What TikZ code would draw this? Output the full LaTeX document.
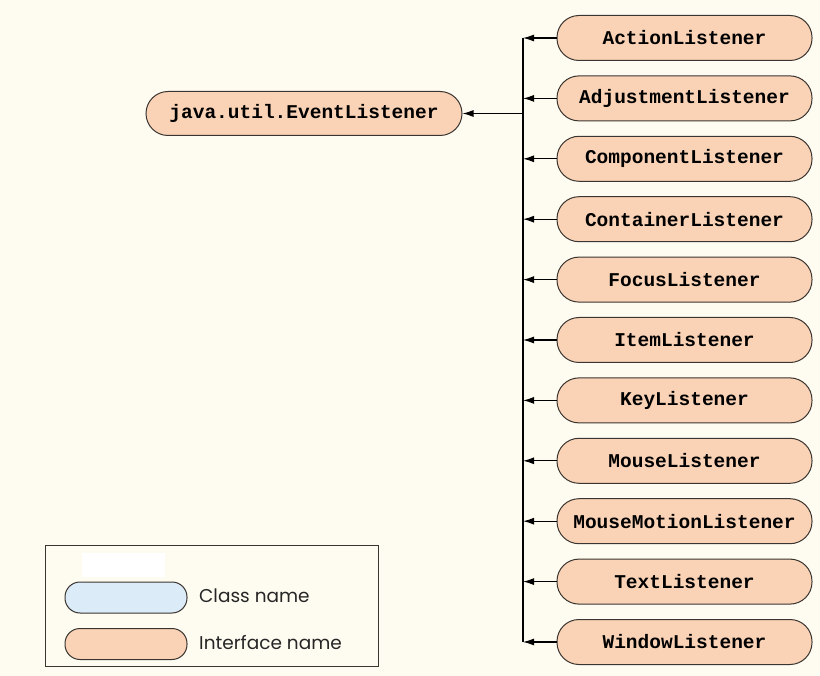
\documentclass[tikz,border=0pt]{standalone}
\usepackage{fontspec}
\newfontfamily\monob{Liberation Mono}[BoldFont={Liberation Mono Bold}]
\newfontfamily\legfont{Poppins}
\usetikzlibrary{arrows.meta}
\definecolor{bgc}{HTML}{FEFBF0}
\definecolor{ifill}{HTML}{FAD3B6}
\definecolor{cfill}{HTML}{DCEBF8}
\definecolor{edgec}{HTML}{3A3530}
\tikzset{
  pill/.style={draw=edgec, line width=1pt, fill=ifill, rectangle, rounded corners=22pt,
    minimum width=255pt, minimum height=45pt, inner sep=0pt,
    font=\monob\bfseries\fontsize{19.5}{22}\selectfont},
  conn/.style={line width=1.2pt, black},
  arr/.style={conn, -{Latex[length=11pt,width=7pt]}},
  legpill/.style={draw=edgec, line width=1pt, rectangle, rounded corners=15pt,
    minimum width=122pt, minimum height=31pt, inner sep=0pt},
  legtext/.style={anchor=west, inner sep=0pt, font=\legfont\fontsize{18.5}{21}\selectfont, text=black!85}
}
\begin{document}
\begin{tikzpicture}[x=1pt,y=-1pt]
\fill[bgc] (0,0) rectangle (820,676);
\useasboundingbox (0,0) rectangle (820,676);
% root
\node[pill, minimum width=316pt, minimum height=44pt] (root) at (304,113.5) {java.util.EventListener};
% listeners
\foreach \n/\t [count=\i from 0] in {
  a/ActionListener, b/AdjustmentListener, c/ComponentListener, d/ContainerListener,
  e/FocusListener, f/ItemListener, g/KeyListener, h/MouseListener,
  i/MouseMotionListener, j/TextListener, k/WindowListener}{
  \node[pill] (\n) at (684.5,{38+60.4*\i}) {\t};
  \coordinate (bus\n) at (523,{38+60.4*\i});
  \draw[arr] (\n.west) -- (bus\n);
}
\coordinate (busroot) at (523,113.5);
\draw[conn] (busa) -- (busk);
\draw[arr] (busroot) -- (root.east);
% legend
\node[draw=edgec, line width=1pt, rectangle, minimum width=333pt, minimum height=121pt, inner sep=0pt, anchor=north west] (legend) at (45,545) {};
\node[fill=white, minimum width=83pt, minimum height=24pt, inner sep=0pt, anchor=north west] (patch) at (82,553) {};
\node[legpill, fill=cfill] (cls) at (126,597.5) {};
\node[legpill, fill=ifill] (ifc) at (126,644) {};
\node[legtext] (clst) at (199,596) {Class name};
\node[legtext] (ifct) at (199,643) {Interface name};
\end{tikzpicture}
\end{document}
